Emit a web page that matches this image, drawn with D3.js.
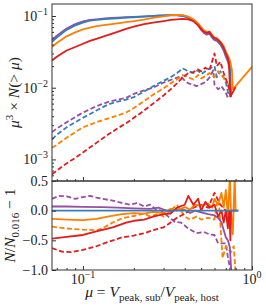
<!DOCTYPE html>
<meta charset="utf-8">
<script src="https://d3js.org/d3.v7.min.js"></script>
<style>
  body { margin: 0; background: #fff; }
  text { font-family: "Liberation Serif", "DejaVu Serif", serif; fill: #222; }
</style>
<div id="chart"></div>
<script>
// ---- data: [mu, value] pairs ----
// top panel: mu^3 * N(>mu)
var topPurple = [[0.0656,0.046],[0.07,0.053],[0.075,0.060],[0.08,0.067],[0.09,0.077],[0.1,0.084],[0.11,0.088],[0.12,0.090],[0.14,0.093],[0.16,0.095],[0.18,0.096],[0.2,0.097],[0.23,0.099],[0.26,0.100],[0.3,0.102],[0.33,0.103],[0.36,0.102],[0.39,0.100],[0.42,0.094],[0.45,0.086],[0.48,0.074],[0.5,0.064],[0.52,0.058],[0.54,0.055],[0.56,0.057],[0.58,0.050],[0.6,0.046],[0.62,0.045],[0.65,0.040],[0.68,0.033],[0.7,0.027],[0.72,0.023],[0.74,0.018],[0.75,0.0075]];
var topBlue = [[0.0656,0.0435],[0.07,0.050],[0.075,0.057],[0.08,0.064],[0.09,0.074],[0.1,0.081],[0.11,0.086],[0.12,0.088],[0.14,0.091],[0.16,0.093],[0.18,0.095],[0.2,0.096],[0.23,0.098],[0.26,0.100],[0.3,0.102],[0.33,0.103],[0.36,0.103],[0.39,0.101],[0.42,0.096],[0.45,0.088],[0.48,0.076],[0.5,0.067],[0.52,0.060],[0.54,0.058],[0.56,0.059],[0.58,0.052],[0.6,0.048],[0.62,0.047],[0.65,0.042],[0.68,0.035],[0.7,0.029],[0.72,0.025],[0.74,0.020],[0.75,0.0078]];
var topOrange = [[0.0656,0.037],[0.07,0.042],[0.075,0.047],[0.08,0.052],[0.09,0.059],[0.1,0.065],[0.11,0.069],[0.12,0.072],[0.14,0.076],[0.16,0.079],[0.18,0.082],[0.2,0.085],[0.23,0.089],[0.26,0.094],[0.3,0.099],[0.33,0.103],[0.36,0.104],[0.39,0.103],[0.42,0.098],[0.45,0.090],[0.48,0.079],[0.5,0.070],[0.52,0.063],[0.54,0.060],[0.56,0.061],[0.58,0.055],[0.6,0.050],[0.62,0.049],[0.65,0.044],[0.68,0.038],[0.7,0.032],[0.72,0.028],[0.74,0.024],[0.76,0.018],[0.77,0.0095],[1.0,0.0195]];
var topRed = [[0.0656,0.024],[0.07,0.027],[0.075,0.030],[0.08,0.033],[0.09,0.037],[0.1,0.041],[0.11,0.045],[0.12,0.048],[0.14,0.054],[0.16,0.060],[0.18,0.066],[0.2,0.071],[0.23,0.077],[0.26,0.081],[0.3,0.085],[0.33,0.088],[0.36,0.090],[0.39,0.091],[0.42,0.090],[0.45,0.085],[0.48,0.074],[0.5,0.066],[0.52,0.060],[0.54,0.058],[0.56,0.060],[0.58,0.053],[0.6,0.049],[0.62,0.048],[0.65,0.043],[0.68,0.036],[0.7,0.030],[0.72,0.026],[0.73,0.022],[0.745,0.0075],[0.8,0.0102]];
var topPurpleDash = [[0.0656,0.0024],[0.07,0.0027],[0.08,0.0033],[0.09,0.0039],[0.1,0.0045],[0.12,0.0055],[0.14,0.0063],[0.16,0.0068],[0.18,0.0072],[0.2,0.0082],[0.23,0.0092],[0.26,0.0100],[0.3,0.0118],[0.33,0.0128],[0.36,0.0138],[0.38,0.0145],[0.4,0.0125],[0.42,0.0115],[0.45,0.0110],[0.47,0.0105],[0.5,0.0112],[0.53,0.0120],[0.56,0.0138],[0.59,0.0175],[0.6,0.0110],[0.63,0.0095],[0.66,0.0105],[0.7,0.0085],[0.72,0.0072]];
var topBlueDash = [[0.0656,0.0019],[0.07,0.0022],[0.08,0.0028],[0.09,0.0033],[0.1,0.0038],[0.12,0.0048],[0.14,0.0058],[0.16,0.0064],[0.18,0.0068],[0.2,0.0074],[0.23,0.0088],[0.26,0.0105],[0.3,0.0125],[0.33,0.0140],[0.36,0.0160],[0.39,0.0185],[0.42,0.0170],[0.45,0.0160],[0.48,0.0175],[0.5,0.0155],[0.53,0.0170],[0.56,0.0185],[0.6,0.0200],[0.62,0.0140],[0.65,0.0170],[0.68,0.0140],[0.7,0.0120],[0.73,0.0075]];
var topOrangeDash = [[0.0656,0.00145],[0.07,0.0016],[0.08,0.0020],[0.09,0.0024],[0.1,0.0028],[0.12,0.0033],[0.14,0.0037],[0.16,0.0041],[0.18,0.0045],[0.2,0.0052],[0.23,0.0065],[0.26,0.0080],[0.3,0.0098],[0.33,0.0115],[0.36,0.0130],[0.39,0.0150],[0.42,0.0140],[0.45,0.0130],[0.48,0.0150],[0.5,0.0135],[0.53,0.0145],[0.56,0.0160],[0.6,0.0140],[0.63,0.0170],[0.66,0.0150],[0.7,0.0125],[0.73,0.0110],[0.76,0.0085]];
var topRedDash = [[0.0656,0.00062],[0.07,0.00070],[0.08,0.00088],[0.09,0.00105],[0.1,0.00125],[0.12,0.0017],[0.14,0.0022],[0.16,0.0027],[0.18,0.0032],[0.2,0.0038],[0.23,0.0048],[0.26,0.0060],[0.3,0.0078],[0.33,0.0095],[0.36,0.0115],[0.39,0.0140],[0.42,0.0160],[0.45,0.0165],[0.48,0.0180],[0.5,0.0170],[0.53,0.0190],[0.56,0.0175],[0.6,0.0300],[0.62,0.0200],[0.65,0.0230],[0.68,0.0160],[0.72,0.0110],[0.75,0.0075]];

// bottom panel: N / N_0.016 - 1
var botBlue = [[0.0656,0],[0.83,0]];
var botPurple = [[0.0656,0.07],[0.08,0.07],[0.1,0.065],[0.13,0.06],[0.16,0.05],[0.2,0.04],[0.25,0.03],[0.28,0.05],[0.3,0.02],[0.33,-0.02],[0.36,0.02],[0.4,0.01],[0.43,-0.04],[0.46,0.0],[0.5,-0.03],[0.55,-0.06],[0.6,-0.08],[0.63,-0.12],[0.66,-0.2],[0.7,-0.45],[0.72,-0.5],[0.74,-0.62],[0.755,-1.05]];
var botPurpleDash = [[0.0656,0.2],[0.072,0.25],[0.08,0.24],[0.09,0.2],[0.1,0.23],[0.11,0.25],[0.12,0.22],[0.13,0.2],[0.15,0.17],[0.17,0.13],[0.19,0.1],[0.21,0.13],[0.23,0.07],[0.25,0.1],[0.27,0.02],[0.29,0.0],[0.32,-0.1],[0.35,-0.19],[0.38,-0.2],[0.42,-0.3],[0.47,-0.38],[0.52,-0.36],[0.56,-0.4],[0.6,-0.41],[0.63,-0.55],[0.7,-0.55],[0.72,-0.78],[0.75,-1.05]];
var botOrange = [[0.0656,-0.14],[0.08,-0.15],[0.1,-0.16],[0.12,-0.14],[0.14,-0.1],[0.17,-0.06],[0.2,-0.04],[0.23,-0.05],[0.26,-0.02],[0.3,-0.04],[0.33,0.03],[0.36,0.0],[0.4,0.06],[0.43,0.02],[0.46,0.1],[0.5,0.08],[0.55,0.12],[0.58,0.05],[0.6,0.2],[0.63,0.1],[0.66,0.3],[0.68,0.05],[0.7,0.35],[0.72,-0.1],[0.74,0.6],[0.75,0.0],[0.77,-0.4],[0.79,0.6],[0.8,0.0]];
var botOrangeDash = [[0.0656,-0.27],[0.08,-0.3],[0.1,-0.32],[0.12,-0.33],[0.13,-0.3],[0.15,-0.2],[0.17,-0.13],[0.2,-0.09],[0.23,-0.05],[0.25,-0.1],[0.28,-0.05],[0.3,-0.1],[0.33,0.0],[0.36,0.1],[0.38,0.0],[0.4,-0.1],[0.43,-0.15],[0.47,-0.1],[0.5,-0.15],[0.55,-0.12],[0.6,-0.15],[0.62,0.12],[0.64,0.05],[0.67,-0.8],[0.7,-0.6],[0.75,-0.7],[0.78,-0.6],[0.8,-1.05]];
var botRed = [[0.0656,-0.47],[0.08,-0.44],[0.1,-0.41],[0.12,-0.35],[0.15,-0.28],[0.18,-0.2],[0.2,-0.17],[0.23,-0.15],[0.26,-0.1],[0.3,-0.06],[0.33,-0.05],[0.36,0.05],[0.4,0.1],[0.42,0.25],[0.45,0.1],[0.48,0.2],[0.5,0.0],[0.53,0.15],[0.56,0.05],[0.6,0.1],[0.63,-0.1],[0.66,0.0],[0.68,-0.2],[0.7,0.0],[0.72,-0.3],[0.735,0.0],[0.745,-0.5],[0.75,0.0],[0.83,0.0]];
var botRedDash = [[0.0656,-0.63],[0.075,-0.69],[0.085,-0.7],[0.1,-0.66],[0.12,-0.6],[0.14,-0.53],[0.17,-0.45],[0.2,-0.42],[0.23,-0.38],[0.26,-0.33],[0.3,-0.28],[0.33,-0.2],[0.36,-0.12],[0.4,-0.05],[0.45,0.05],[0.5,0.1],[0.55,0.05],[0.6,0.3],[0.65,0.1],[0.7,0.0],[0.73,-0.2],[0.75,0.0]];

var yTopTicks = [1e-3, 1e-2, 1e-1];
var yTopTickExp = ["\u22123", "\u22122", "\u22121"];
var yBotTicks = [0.5, 0.0, -0.5, -1.0];
var yBotTickLabels = ["0.5", "0.0", "\u22120.5", "\u22121.0"];
var xTicks = [0.1, 1];
var xTickExp = ["\u22121", "0"];

var col = {purple: "#984ea3", blue: "#377eb8", orange: "#ff7f00", red: "#e41a1c"};

// ---- layout ----
var W = 266, H = 307;
var L = 52, R = 252, T1 = 4, B1 = 181, T2 = 181, B2 = 270;

var svg = d3.select("#chart").append("svg").attr("width", W).attr("height", H);

var x = d3.scaleLog().domain([0.0656, 1]).range([L, R]);
var yTop = d3.scaleLog().domain([5e-4, 0.147]).range([B1, T1]);
var yBot = d3.scaleLinear().domain([-1, 0.5]).range([B2, T2]);

var defs = svg.append("defs");
defs.append("clipPath").attr("id", "c1").append("rect").attr("x", L).attr("y", T1).attr("width", R - L).attr("height", B1 - T1);
defs.append("clipPath").attr("id", "c2").append("rect").attr("x", L).attr("y", T2).attr("width", R - L).attr("height", B2 - T2);

function drawLines(sc, clip, list) {
  var g = svg.append("g").attr("clip-path", "url(#" + clip + ")");
  var line = d3.line().x(function(d) { return x(d[0]); }).y(function(d) { return sc(d[1]); });
  list.forEach(function(s) {
    g.append("path").datum(s[0])
      .attr("d", line)
      .attr("fill", "none")
      .attr("stroke", s[1])
      .attr("stroke-width", 1.8)
      .attr("stroke-linejoin", "round")
      .attr("stroke-dasharray", s[2] ? "5,2.5" : null);
  });
}

drawLines(yTop, "c1", [
  [topPurpleDash, col.purple, true], [topBlueDash, col.blue, true], [topOrangeDash, col.orange, true], [topRedDash, col.red, true],
  [topPurple, col.purple], [topBlue, col.blue], [topOrange, col.orange], [topRed, col.red]
]);
drawLines(yBot, "c2", [
  [botPurpleDash, col.purple, true], [botOrangeDash, col.orange, true], [botRedDash, col.red, true],
  [botPurple, col.purple], [botOrange, col.orange], [botRed, col.red], [botBlue, col.blue]
]);

// ---- axes (ticks inward) ----
var axCol = "#333";
function xTicksOn(yPix) {
  var g = svg.append("g").attr("transform", "translate(0," + yPix + ")");
  var ax = d3.axisTop(x).tickValues(x.ticks().filter(function(t) { return t >= 0.0656; }))
    .tickSize(2).tickFormat("");
  g.call(ax);
  g.selectAll(".tick line").attr("stroke", axCol);
  g.selectAll(".tick").filter(function(d) { return Math.abs(Math.log10(d) - Math.round(Math.log10(d))) < 1e-6; })
    .select("line").attr("y2", -4);
  g.select(".domain").remove();
}
xTicksOn(B1);
xTicksOn(B2);

// top y axis
var gy1 = svg.append("g").attr("transform", "translate(" + L + ",0)");
gy1.call(d3.axisRight(yTop).tickValues(yTop.ticks().filter(function(t) { return t >= 5e-4 && t <= 0.147; })).tickSize(2).tickFormat(""));
gy1.select(".domain").remove();
gy1.selectAll(".tick line").attr("stroke", axCol);
gy1.selectAll(".tick").filter(function(d) { return yTopTicks.some(function(t) { return Math.abs(t - d) / t < 1e-6; }); })
  .select("line").attr("x2", 4);

yTopTicks.forEach(function(t, i) {
  var tx = svg.append("text").attr("x", L - 4).attr("y", yTop(t) + 5).attr("text-anchor", "end").style("font-size", "14px");
  tx.append("tspan").text("10");
  tx.append("tspan").attr("dy", -6).style("font-size", "10px").text(yTopTickExp[i]);
});

// bottom y axis
var gy2 = svg.append("g").attr("transform", "translate(" + L + ",0)");
gy2.call(d3.axisRight(yBot).tickValues(yBotTicks).tickSize(4).tickFormat(""));
gy2.select(".domain").remove();
gy2.selectAll(".tick line").attr("stroke", axCol);
yBotTicks.forEach(function(t, i) {
  svg.append("text").attr("x", L - 4).attr("y", yBot(t) + 4.5).attr("text-anchor", "end")
    .style("font-size", "14px").text(yBotTickLabels[i]);
});

// x tick labels
xTicks.forEach(function(t, i) {
  var tx = svg.append("text").attr("x", x(t)).attr("y", B2 + 14).attr("text-anchor", "middle").style("font-size", "14px");
  tx.append("tspan").text("10");
  tx.append("tspan").attr("dy", -6).style("font-size", "10px").text(xTickExp[i]);
});

// frames
[[T1, B1], [T2, B2]].forEach(function(p) {
  svg.append("rect").attr("x", L).attr("y", p[0]).attr("width", R - L).attr("height", p[1] - p[0])
    .attr("fill", "none").attr("stroke", axCol).attr("stroke-width", 1);
});

// axis labels
var yl1 = svg.append("text").attr("transform", "translate(19," + ((T1 + B1) / 2) + ") rotate(-90)")
  .attr("text-anchor", "middle").style("font-size", "15.5px");
yl1.append("tspan").style("font-style", "italic").text("\u03bc");
yl1.append("tspan").attr("dy", -6).style("font-size", "11px").text("3");
yl1.append("tspan").attr("dy", 6).text(" \u00d7 ");
yl1.append("tspan").style("font-style", "italic").text("N");
yl1.append("tspan").text("(> ");
yl1.append("tspan").style("font-style", "italic").text("\u03bc");
yl1.append("tspan").text(")");

var yl2 = svg.append("text").attr("transform", "translate(15," + ((T2 + B2) / 2) + ") rotate(-90)")
  .attr("text-anchor", "middle").style("font-size", "15.5px");
yl2.append("tspan").style("font-style", "italic").text("N");
yl2.append("tspan").text("/");
yl2.append("tspan").style("font-style", "italic").text("N");
yl2.append("tspan").attr("dy", 3.5).style("font-size", "11px").text("0.016");
yl2.append("tspan").attr("dy", -3.5).text(" \u2212 1");

var xl = svg.append("text").attr("x", (L + R) / 2).attr("y", 297).attr("text-anchor", "middle").style("font-size", "15.5px");
xl.append("tspan").style("font-style", "italic").text("\u03bc");
xl.append("tspan").text(" = ");
xl.append("tspan").style("font-style", "italic").text("V");
xl.append("tspan").attr("dy", 3.5).style("font-size", "11px").text("peak, sub");
xl.append("tspan").attr("dy", -3.5).text("/");
xl.append("tspan").style("font-style", "italic").text("V");
xl.append("tspan").attr("dy", 3.5).style("font-size", "11px").text("peak, host");
</script>
